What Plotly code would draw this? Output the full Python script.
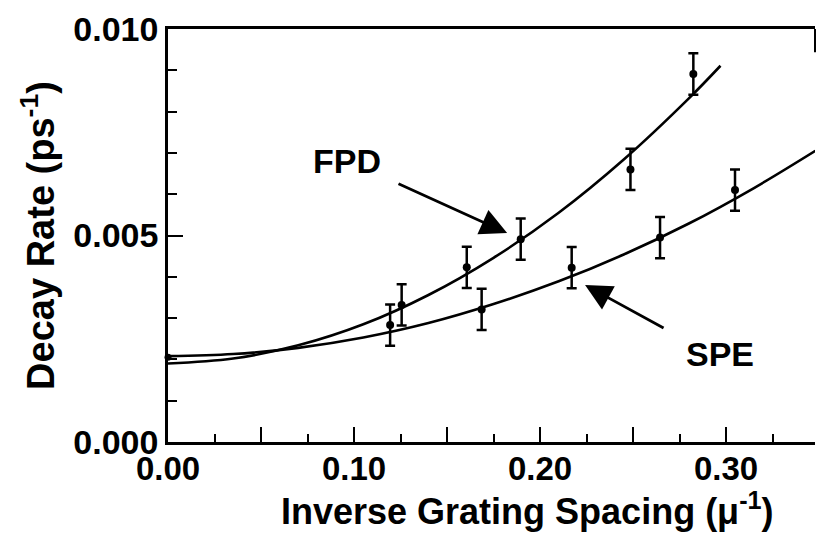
import plotly.graph_objects as go

fpd_x = [0.1256, 0.1606, 0.1896, 0.2486, 0.2824]
fpd_y = [0.00332, 0.00423, 0.00491, 0.00660, 0.00891]
fpd_err = [0.0005, 0.0005, 0.0005, 0.0005, 0.0005]

spe_x = [0.1194, 0.1686, 0.2170, 0.2645, 0.3048]
spe_y = [0.00283, 0.00321, 0.00422, 0.00495, 0.00610]
spe_err = [0.0005, 0.0005, 0.0005, 0.0005, 0.0005]

origin_x = [0.0]
origin_y = [0.00205]

# Fitted curves
fpd_fit_x = [0, 0.035, 0.07, 0.105, 0.14, 0.175, 0.21, 0.245, 0.28, 0.297]
fpd_fit_y = [0.00190, 0.00202, 0.00234, 0.00285, 0.00356, 0.00446, 0.00555, 0.00684, 0.00832, 0.00911]

spe_fit_x = [0, 0.035, 0.07, 0.105, 0.14, 0.175, 0.21, 0.245, 0.28, 0.315, 0.348]
spe_fit_y = [0.00208, 0.00213, 0.00228, 0.00253, 0.00288, 0.00334, 0.00389, 0.00454, 0.00529, 0.00615, 0.00705]

x_tickvals = [0.0, 0.10, 0.20, 0.30]
x_ticktext = ["0.00", "0.10", "0.20", "0.30"]
x_mid_ticks = [0.05, 0.15, 0.25]
y_tickvals = [0.000, 0.005, 0.010]
y_ticktext = ["0.000", "0.005", "0.010"]

FONT = "Liberation Sans, Arial, Helvetica, sans-serif"
XR = [0, 0.3478]

fig = go.Figure()

fig.add_trace(go.Scatter(x=fpd_fit_x, y=fpd_fit_y, mode="lines", line=dict(color="black", width=2.6, shape="spline"),
                         hoverinfo="skip", showlegend=False))
fig.add_trace(go.Scatter(x=spe_fit_x, y=spe_fit_y, mode="lines", line=dict(color="black", width=2.6, shape="spline"),
                         hoverinfo="skip", showlegend=False))

fig.add_trace(go.Scatter(x=fpd_x, y=fpd_y, mode="markers", marker=dict(color="black", size=8),
                         error_y=dict(type="data", array=fpd_err, color="black", thickness=2.5, width=5),
                         showlegend=False, name="FPD"))
fig.add_trace(go.Scatter(x=spe_x, y=spe_y, mode="markers", marker=dict(color="black", size=8),
                         error_y=dict(type="data", array=spe_err, color="black", thickness=2.5, width=5),
                         showlegend=False, name="SPE"))
fig.add_trace(go.Scatter(x=origin_x, y=origin_y, mode="markers", marker=dict(color="black", size=7),
                         showlegend=False, cliponaxis=False, xaxis="x2"))

# Labels and arrows
fig.add_annotation(x=0.0962, y=0.0068, xref="x", yref="y", text="FPD", showarrow=False,
                   font=dict(family=FONT, size=34, color="black", weight="bold"))
fig.add_annotation(x=0.2968, y=0.00213, xref="x", yref="y", text="SPE", showarrow=False,
                   font=dict(family=FONT, size=34, color="black", weight="bold"))
fig.add_annotation(x=0.1823, y=0.00506, ax=0.1231, ay=0.00627, xref="x", yref="y", axref="x", ayref="y",
                   text="", showarrow=True, arrowhead=2, arrowsize=1.9, arrowwidth=2.8, arrowcolor="black")
fig.add_annotation(x=0.2242, y=0.0038, ax=0.2672, ay=0.00274, xref="x", yref="y", axref="x", ayref="y",
                   text="", showarrow=True, arrowhead=2, arrowsize=1.9, arrowwidth=2.8, arrowcolor="black")

# x-axis title, placed as in the reference (shifted right of plot centre)
fig.add_annotation(x=0.556, y=-0.222, xref="paper", yref="paper", yanchor="bottom", xanchor="center",
                   text="Inverse Grating Spacing (μ<sup>-1</sup>)", showarrow=False,
                   font=dict(family=FONT, size=36, color="black", weight="bold"))

# short right border segment near top
fig.add_shape(type="line", xref="paper", yref="paper", x0=1, x1=1, y0=1, y1=0.944,
              line=dict(color="black", width=2))

fig.update_layout(
    width=816, height=536,
    margin=dict(l=168, r=1, t=29, b=94),
    paper_bgcolor="white", plot_bgcolor="white",
    font=dict(family=FONT, color="black"),
    xaxis=dict(
        range=XR, showgrid=False, zeroline=False,
        showline=True, linecolor="black", linewidth=2.5, mirror=True,
        ticks="inside", ticklen=15, tickwidth=2, tickcolor="black",
        tickvals=x_tickvals, ticktext=x_ticktext, ticklabelstandoff=-4,
        tickfont=dict(family=FONT, size=33, weight="bold"),
        minor=dict(ticks="inside", dtick=0.025, tick0=0, ticklen=8, tickwidth=2, tickcolor="black", showgrid=False),
    ),
    xaxis2=dict(
        range=XR, matches="x", overlaying="x", anchor="y", side="bottom",
        showgrid=False, zeroline=False, showline=False, showticklabels=False,
        ticks="inside", ticklen=15, tickwidth=2, tickcolor="black", tickvals=x_mid_ticks,
    ),
    yaxis=dict(
        range=[0, 0.010], showgrid=False, zeroline=False,
        showline=True, linecolor="black", linewidth=2.5,
        ticks="inside", ticklen=15, tickwidth=2, tickcolor="black",
        tickvals=y_tickvals, ticktext=y_ticktext,
        tickfont=dict(family=FONT, size=34, weight="bold"),
        minor=dict(ticks="inside", dtick=0.001, tick0=0, ticklen=9, tickwidth=2, tickcolor="black", showgrid=False),
        title=dict(text="Decay Rate (ps<sup>-1</sup>)", standoff=8,
                   font=dict(family=FONT, size=38, weight="bold")),
    ),
)

fig.write_html("out.html")
